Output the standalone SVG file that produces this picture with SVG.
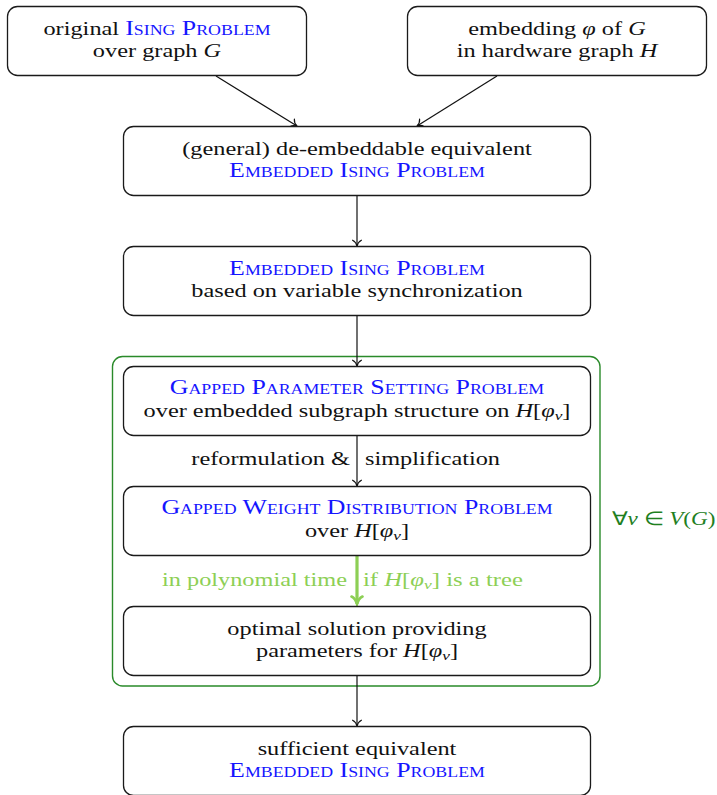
<svg xmlns="http://www.w3.org/2000/svg" width="717" height="795" viewBox="0 0 717 795">
<style>
text{font-family:"Liberation Serif","Times New Roman",serif;font-size:19px;fill:#111;}
.c{text-anchor:middle;}
.e{text-anchor:end;}
.s{text-anchor:start;}
.sc{font-variant:small-caps;fill:#1515ff;font-size:20.2px;}
.i{font-style:italic;}
.sub{font-style:italic;font-size:13.5px;}
.box{fill:#fff;stroke:#1a1a1a;stroke-width:1.3;}
.lg text,.lg tspan{fill:#8dcf55;}
.dg{fill:#1f801f;}
</style>
<defs>
<marker id="ah" viewBox="-8 -6 10 12" refX="0" refY="0" markerWidth="10" markerHeight="12" markerUnits="userSpaceOnUse" orient="auto">
<path d="M-5.8,-4.4 C-4.6,-1.9 -1.6,-0.4 0,0 C-1.6,0.4 -4.6,1.9 -5.8,4.4" fill="none" stroke="#111" stroke-width="1.2" stroke-linecap="round"/>
</marker>
<marker id="ahg" viewBox="-10 -8 12 16" refX="0" refY="0" markerWidth="12" markerHeight="16" markerUnits="userSpaceOnUse" orient="auto">
<path d="M-7.5,-5.5 C-6,-2.4 -2.2,-0.6 0,0 C-2.2,0.6 -6,2.4 -7.5,5.5" fill="none" stroke="#8dcf55" stroke-width="2.6" stroke-linecap="round"/>
</marker>
</defs>

<g id="container">
<rect x="112.5" y="356.5" width="487.5" height="329.5" rx="10" fill="none" stroke="#2a8a2a" stroke-width="1.4"/>
<g transform="translate(715.5,525) scale(1.22,1)"><text class="e dg" x="0" y="0">∀<tspan class="i dg">v</tspan> ∈ <tspan class="i dg">V</tspan>(<tspan class="i dg">G</tspan>)</text></g>
</g>

<g id="connectors" fill="none" stroke="#111" stroke-width="1.2">
<line x1="216" y1="76" x2="297" y2="126" marker-end="url(#ah)"/>
<line x1="497" y1="76" x2="417" y2="126" marker-end="url(#ah)"/>
<line x1="357" y1="196" x2="357" y2="246" marker-end="url(#ah)"/>
<line x1="357" y1="316" x2="357" y2="366" marker-end="url(#ah)"/>
<line x1="357" y1="436" x2="357" y2="486" marker-end="url(#ah)"/>
<line x1="357" y1="556" x2="357" y2="604" stroke="#8dcf55" stroke-width="3.2" marker-end="url(#ahg)"/>
<line x1="357" y1="676" x2="357" y2="726" marker-end="url(#ah)"/>
<g transform="translate(350,465) scale(1.28,1)"><text class="e" x="0" y="0" stroke="none">reformulation &amp;</text></g>
<g transform="translate(365,465) scale(1.28,1)"><text class="s" x="0" y="0" stroke="none">simplification</text></g>
<g class="lg" transform="translate(347,586) scale(1.28,1)"><text class="e" x="0" y="0" stroke="none">in polynomial time</text></g>
<g class="lg" transform="translate(363,586) scale(1.3,1)"><text class="s" x="0" y="0" stroke="none">if <tspan class="i">H</tspan>[<tspan class="i">φ</tspan><tspan class="sub" dy="3">v</tspan><tspan dy="-3">]</tspan> is a tree</text></g>
</g>

<g id="n1">
<rect class="box" x="7.5" y="6.5" width="299" height="69" rx="10"/>
<g transform="translate(157,0) scale(1.28,1)">
<text class="c" x="0" y="35">original <tspan class="sc">Ising Problem</tspan></text>
<text class="c" x="0" y="57">over graph <tspan class="i">G</tspan></text>
</g>
</g>

<g id="n2">
<rect class="box" x="407.5" y="6.5" width="299" height="69" rx="10"/>
<g transform="translate(557,0) scale(1.28,1)">
<text class="c" x="0" y="35">embedding <tspan class="i">φ</tspan> of <tspan class="i">G</tspan></text>
<text class="c" x="0" y="57">in hardware graph <tspan class="i">H</tspan></text>
</g>
</g>

<g id="n3">
<rect class="box" x="123.5" y="126.5" width="467" height="69" rx="10"/>
<g transform="translate(357,0) scale(1.28,1)">
<text class="c" x="0" y="155">(general) de-embeddable equivalent</text>
<text class="c" x="0" y="177"><tspan class="sc">Embedded Ising Problem</tspan></text>
</g>
</g>

<g id="n4">
<rect class="box" x="123.5" y="246.5" width="467" height="69" rx="10"/>
<g transform="translate(357,0) scale(1.28,1)">
<text class="c" x="0" y="275"><tspan class="sc">Embedded Ising Problem</tspan></text>
<text class="c" x="0" y="297">based on variable synchronization</text>
</g>
</g>

<g id="n5">
<rect class="box" x="123.5" y="366.5" width="467" height="69" rx="10"/>
<g transform="translate(357,0) scale(1.28,1)">
<text class="c" x="0" y="394.5"><tspan class="sc">Gapped Parameter Setting Problem</tspan></text>
<text class="c" x="0" y="417">over embedded subgraph structure on <tspan class="i">H</tspan>[<tspan class="i">φ</tspan><tspan class="sub" dy="3">v</tspan><tspan dy="-3">]</tspan></text>
</g>
</g>

<g id="n6">
<rect class="box" x="123.5" y="486.5" width="467" height="69" rx="10"/>
<g transform="translate(357,0) scale(1.28,1)">
<text class="c" x="0" y="514.5"><tspan class="sc">Gapped Weight Distribution Problem</tspan></text>
<text class="c" x="0" y="537">over <tspan class="i">H</tspan>[<tspan class="i">φ</tspan><tspan class="sub" dy="3">v</tspan><tspan dy="-3">]</tspan></text>
</g>
</g>

<g id="n7">
<rect class="box" x="123.5" y="606.5" width="467" height="69" rx="10"/>
<g transform="translate(357,0) scale(1.28,1)">
<text class="c" x="0" y="635">optimal solution providing</text>
<text class="c" x="0" y="657">parameters for <tspan class="i">H</tspan>[<tspan class="i">φ</tspan><tspan class="sub" dy="3">v</tspan><tspan dy="-3">]</tspan></text>
</g>
</g>

<g id="n8">
<rect class="box" x="123.5" y="726.5" width="467" height="69" rx="10"/>
<g transform="translate(357,0) scale(1.28,1)">
<text class="c" x="0" y="755">sufficient equivalent</text>
<text class="c" x="0" y="777"><tspan class="sc">Embedded Ising Problem</tspan></text>
</g>
</g>
</svg>
